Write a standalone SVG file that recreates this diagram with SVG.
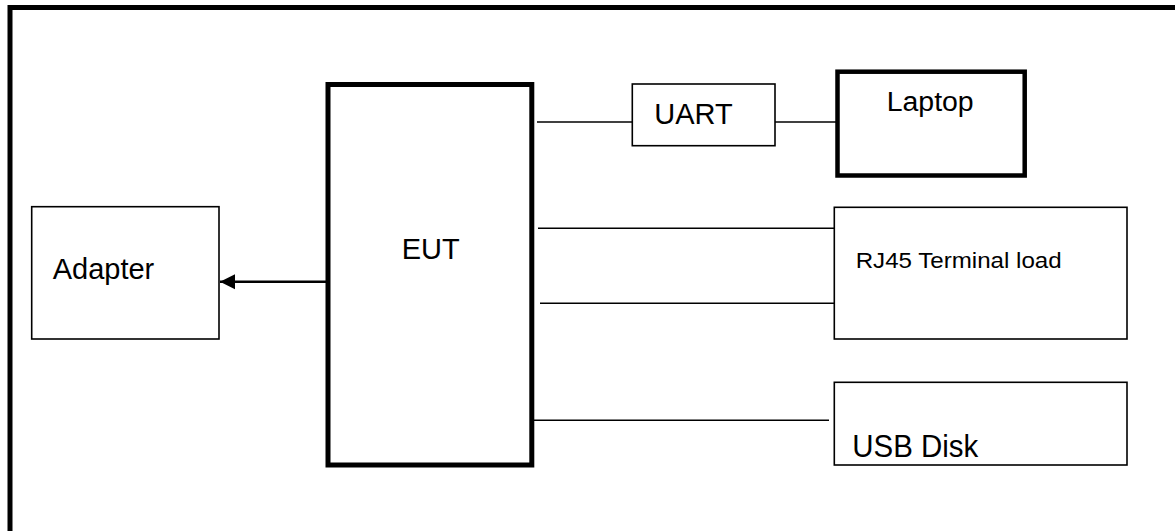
<svg xmlns="http://www.w3.org/2000/svg" width="1175" height="531" viewBox="0 0 1175 531">
<style>
.box{fill:#fff;stroke:#000;stroke-width:1.6}
.thick{fill:#fff;stroke:#000;stroke-width:5}
.med{fill:#fff;stroke:#000;stroke-width:4.5}
.lbl{font-family:"Liberation Sans",Arial,sans-serif;fill:#000}
.wire{stroke:#000;stroke-width:1.6;fill:none}
</style>
<defs>
<marker id="ah" markerUnits="userSpaceOnUse" markerWidth="16" markerHeight="16" viewBox="0 0 16 16" refX="15" refY="8" orient="auto">
<path d="M0,0.5 L15,8 L0,15.5 Z" fill="#000"/>
</marker>
</defs>
<rect x="0" y="0" width="1175" height="531" fill="#fff"/>
<rect id="frame" x="10" y="7.5" width="1200" height="560" fill="none" stroke="#000" stroke-width="5"/>
<g id="connectors">
<line class="wire" x1="537" y1="122" x2="632" y2="122"/>
<line class="wire" x1="775" y1="122" x2="836" y2="122"/>
<line class="wire" x1="538" y1="228.3" x2="834" y2="228.3"/>
<line class="wire" x1="540" y1="303.3" x2="834" y2="303.3"/>
<line class="wire" x1="534" y1="420.3" x2="829" y2="420.3"/>
<line x1="326" y1="281.7" x2="220" y2="281.7" stroke="#000" stroke-width="2.5" marker-end="url(#ah)"/>
</g>
<g id="eut">
<rect class="thick" x="328" y="84.5" width="203.8" height="380.5"/>
<text class="lbl" x="401.7" y="259" font-size="29">EUT</text>
</g>
<g id="adapter">
<rect class="box" x="31.7" y="206.7" width="187.3" height="132.3"/>
<text class="lbl" x="52.7" y="279" font-size="29">Adapter</text>
</g>
<g id="uart">
<rect class="box" x="632.3" y="84" width="142.7" height="61.7"/>
<text class="lbl" x="654.3" y="124" font-size="29">UART</text>
</g>
<g id="laptop">
<rect class="med" x="837.5" y="71.7" width="187.2" height="103.8"/>
<text class="lbl" x="886.7" y="111" font-size="27" textLength="87" lengthAdjust="spacingAndGlyphs">Laptop</text>
</g>
<g id="rj45">
<rect class="box" x="834.3" y="207.3" width="292.7" height="131.7"/>
<text class="lbl" x="855.7" y="267.7" font-size="22" textLength="206" lengthAdjust="spacingAndGlyphs">RJ45 Terminal load</text>
</g>
<g id="usb">
<rect class="box" x="834.3" y="382.3" width="292.7" height="82.7"/>
<text class="lbl" x="852.3" y="457.3" font-size="31" textLength="126" lengthAdjust="spacingAndGlyphs">USB Disk</text>
</g>
</svg>
